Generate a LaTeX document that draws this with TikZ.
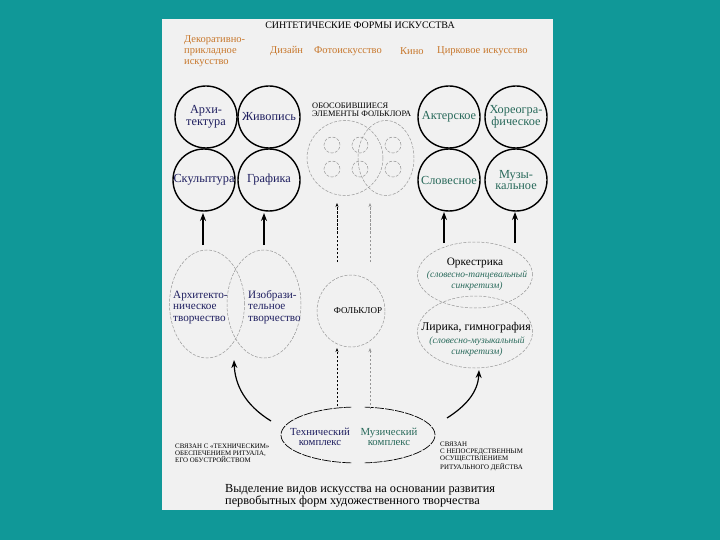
\documentclass[tikz,border=0pt]{standalone}
\usepackage{fontspec}
\setmainfont{Liberation Serif}
\usetikzlibrary{shapes.geometric,arrows.meta}
\definecolor{bgteal}{RGB}{16,152,152}
\definecolor{pagegray}{RGB}{241,241,241}
\definecolor{navy}{RGB}{30,30,95}
\definecolor{dgreen}{RGB}{40,105,90}
\definecolor{orangetxt}{RGB}{200,120,45}
\definecolor{dashgray}{RGB}{150,150,150}
\newcommand{\fsl}[2]{\fontsize{#1}{#2}\selectfont}
\tikzset{
  circ/.style={circle, draw=black, line width=1.4pt, minimum size=62pt, inner sep=0pt, align=center, font=\fsl{12.3}{11.5}, text=navy},
  circg/.style={circ, text=dgreen},
  dell/.style={ellipse, draw=dashgray, dash pattern=on 3pt off 1.5pt, line width=0.5pt, inner sep=0pt},
  dcirc/.style={circle, draw=dashgray, dash pattern=on 3pt off 1.5pt, line width=0.5pt, inner sep=0pt, minimum size=16pt},
  arr/.style={-{Stealth[length=8pt,width=6pt]}, line width=1.3pt},
  darr/.style={-{Stealth[length=4pt,width=3pt]}, line width=0.6pt, dash pattern=on 2.5pt off 1.5pt},
  orangetext/.style={anchor=west, text=orangetxt, font=\fsl{10.5}{11}, align=left, inner sep=0pt},
  eltext/.style={anchor=west, align=left, font=\fsl{11.2}{11.5}, text=navy, inner sep=0pt},
  smallcap/.style={align=left, font=\fsl{6.9}{7}, inner sep=0pt, anchor=north west},
}
\begin{document}
\begin{tikzpicture}[x=1pt,y=-1pt]
\useasboundingbox (0,0) rectangle (720,540);
\fill[bgteal] (0,0) rectangle (720,540);
\fill[pagegray] (162,19) rectangle (553,510);

% title and orange items
\node[font=\fsl{10}{10}, inner sep=0pt] (title) at (360,25) {СИНТЕТИЧЕСКИЕ ФОРМЫ ИСКУССТВА};
\node[orangetext] (deco) at (184,51) {Декоративно-\\прикладное\\искусство};
\node[orangetext] (design) at (270,51) {Дизайн};
\node[orangetext] (photo) at (314,51) {Фотоискусство};
\node[orangetext] (kino) at (400,51) {Кино};
\node[orangetext] (circus) at (437,51) {Цирковое искусство};

% circles
\node[circ] (arch) at (206,117) {Архи-\\тектура};
\node[circ] (paint) at (269,117) {Живопись};
\node[circ] (sculp) at (204,180) {Скульптура};
\node[circ] (graph) at (269,180) {Графика};
\node[circg] (act) at (449,117) {Актерское};
\node[circg] (chor) at (516,117) {Хореогра-\\фическое};
\node[circg] (verb) at (449,180) {Словесное};
\node[circg] (mus) at (516,180) {Музы-\\кальное};

% separated folklore elements
\node[anchor=south west, align=left, font=\fsl{8.4}{8.2}, inner sep=0pt] (fellab) at (312,117) {ОБОСОБИВШИЕСЯ\\ЭЛЕМЕНТЫ ФОЛЬКЛОРА};
\node[dell, minimum width=76pt, minimum height=75pt] (fel1) at (345,158) {};
\node[dell, minimum width=56pt, minimum height=75pt] (fel2) at (386,158) {};
\node[dcirc] (s1) at (332,145) {};
\node[dcirc] (s2) at (360,145) {};
\node[dcirc] (s3) at (393,145) {};
\node[dcirc] (s4) at (332,169) {};
\node[dcirc] (s5) at (360,169) {};
\node[dcirc] (s6) at (393,169) {};

% folklore
\node[dell, minimum width=68pt, minimum height=72pt] (folk) at (351,311) {};
\node[font=\fsl{9}{9}, inner sep=0pt] (folktxt) at (358,311) {ФОЛЬКЛОР};

% left ellipses
\node[dell, minimum width=75pt, minimum height=108pt] (archtv) at (207,304) {};
\node[dell, minimum width=74pt, minimum height=108pt] (izotv) at (264,304) {};
\node[eltext] (archtvt) at (173,307) {Архитекто-\\ническое\\творчество};
\node[eltext] (izotvt) at (248,307) {Изобрази-\\тельное\\творчество};

% right ellipses
\node[dell, minimum width=115pt, minimum height=66pt] (orch) at (475,275) {};
\node[dell, minimum width=115pt, minimum height=72pt] (lyr) at (475,332) {};
\node[font=\fsl{11.3}{11}, inner sep=0pt] (orcht) at (475,263) {Оркестрика};
\node[align=center, font=\itshape\fsl{9.5}{11}, text=dgreen, inner sep=0pt] (orchs) at (477,281) {(словесно-танцевальный\\синкретизм)};
\node[font=\fsl{11.8}{11.5}, inner sep=0pt] (lyrt) at (476,328) {Лирика, гимнография};
\node[align=center, font=\itshape\fsl{9.5}{11}, text=dgreen, inner sep=0pt] (lyrs) at (477,347) {(словесно-музыкальный\\синкретизм)};

% bottom complex
\node[ellipse, minimum width=154pt, minimum height=56pt, inner sep=0pt] (comp) at (358,435) {};
\draw[line width=0.7pt, dash pattern=on 9pt off 1.2pt] (comp.center) ++(95:77 and 28) arc[start angle=95, end angle=265, x radius=77, y radius=28];
\draw[line width=0.7pt, dash pattern=on 9pt off 1.2pt] (comp.center) ++(-85:77 and 28) arc[start angle=-85, end angle=85, x radius=77, y radius=28];
\node[align=center, font=\fsl{10.8}{10.5}, text=navy, inner sep=0pt] (tech) at (320,437) {Технический\\комплекс};
\node[align=center, font=\fsl{10.8}{10.5}, text=dgreen, inner sep=0pt] (musc) at (389,437) {Музический\\комплекс};

% side texts
\node[smallcap] (ltxt) at (175,444) {СВЯЗАН С «ТЕХНИЧЕСКИМ»\\ОБЕСПЕЧЕНИЕМ РИТУАЛА,\\ЕГО ОБУСТРОЙСТВОМ};
\node[smallcap] (rtxt) at (440,442) {СВЯЗАН\\С НЕПОСРЕДСТВЕННЫМ\\ОСУЩЕСТВЛЕНИЕМ\\РИТУАЛЬНОГО ДЕЙСТВА};

% caption
\node[anchor=north west, align=left, font=\fsl{12.3}{12}, inner sep=0pt] (cap) at (225,484) {Выделение видов искусства на основании развития\\первобытных форм художественного творчества};

% coordinates
\coordinate (a1s) at (203,245); \coordinate (a1e) at (203,213);
\coordinate (a2s) at (264,245); \coordinate (a2e) at (264,213);
\coordinate (a3s) at (444,243); \coordinate (a3e) at (444,212);
\coordinate (a4s) at (515,243); \coordinate (a4e) at (515,212);
\coordinate (d1s) at (337,262); \coordinate (d1e) at (337,203);
\coordinate (d2s) at (370,262); \coordinate (d2e) at (370,203);
\coordinate (d3s) at (337,406); \coordinate (d3e) at (337,348);
\coordinate (d4s) at (370,409); \coordinate (d4e) at (370,348);
\coordinate (cl) at (271,421); \coordinate (clt) at (234,360);
\coordinate (cr) at (447,418); \coordinate (crt) at (479,370);

% arrows
\draw[arr] (a1s) -- (a1e);
\draw[arr] (a2s) -- (a2e);
\draw[arr] (a3s) -- (a3e);
\draw[arr] (a4s) -- (a4e);
\draw[darr, draw=black] (d1s) -- (d1e);
\draw[darr, draw=dashgray] (d2s) -- (d2e);
\draw[darr, draw=black] (d3s) -- (d3e);
\draw[darr, draw=dashgray] (d4s) -- (d4e);
\draw[arr, line width=1.2pt] (cl) .. controls (245,405) and (235,385) .. (clt);
\draw[arr, line width=1.2pt] (cr) .. controls (466,406) and (478,392) .. (crt);
\end{tikzpicture}
\end{document}
